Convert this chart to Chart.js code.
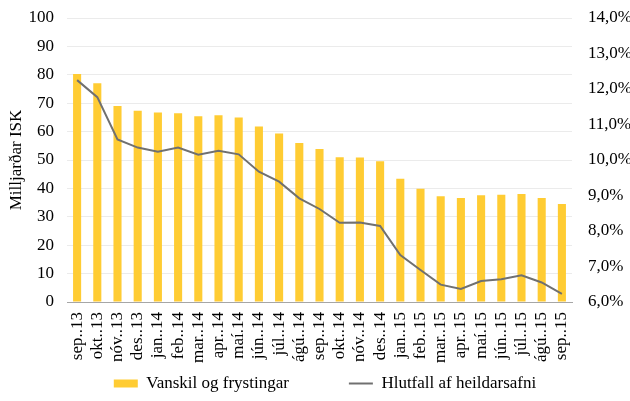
<!DOCTYPE html>
<html>
<head>
<meta charset="utf-8">
<script src="https://cdn.jsdelivr.net/npm/chart.js@4.4.1/dist/chart.umd.min.js"></script>
<style>
  body { margin: 0; background: #fff; }
  #wrap { width: 630px; height: 401px; position: relative; }
</style>
</head>
<body>
<div id="wrap"><canvas id="vanskilChart"></canvas></div>
<script>
const months = [
  "sep..13", "okt..13", "nóv..13", "des..13", "jan..14", "feb..14", "mar..14",
  "apr..14", "maí.14", "jún..14", "júl..14", "ágú..14", "sep..14", "okt..14",
  "nóv..14", "des..14", "jan..15", "feb..15", "mar..15", "apr..15", "maí.15",
  "jún..15", "júl..15", "ágú..15", "sep..15"
];

// milljarðar ISK
const vanskil = [
  80.3, 77.0, 69.0, 67.3, 66.7, 66.5, 65.4, 65.8, 65.0, 61.8, 59.3, 56.0, 53.9,
  51.0, 50.9, 49.6, 43.4, 39.9, 37.2, 36.6, 37.6, 37.8, 38.0, 36.6, 34.5
];

// % af heildarsafni
const hlutfall = [
  12.25, 11.77, 10.58, 10.35, 10.23, 10.35, 10.15, 10.26, 10.16, 9.67, 9.39, 8.92, 8.62,
  8.23, 8.24, 8.14, 7.32, 6.90, 6.49, 6.37, 6.59, 6.64, 6.75, 6.55, 6.23
];

const leftTicks = { min: 0, max: 100, step: 10 };
const rightTicks = { min: 6, max: 14, step: 1 };

const serif = "'Liberation Serif', 'Times New Roman', serif";
const txtFont = { family: serif, size: 17 };

// fixed axis sizes so the plot area sits where it should
const fixY = (w) => (scale) => {
  scale.width = w;
  scale.paddingTop = 18;
  scale.paddingBottom = 0;
};

// legend: wide gap between the two items but a short legend box
const legendGap = 60;
const legendHeight = 36;
const legendShift = 10;
const legendSpacing = {
  id: "legendSpacing",
  beforeLayout(chart) {
    const lg = chart.legend;
    if (lg && !lg._shortFit) {
      const origFit = lg.fit.bind(lg);
      lg.fit = function () {
        origFit();
        this.height = legendHeight;
      };
      lg._shortFit = true;
    }
  },
  afterLayout(chart) {
    const lg = chart.legend;
    if (!lg) return;
    lg.top = lg.top + 10 - legendGap;
    lg.left += legendShift;
    lg.right += legendShift;
  }
};

const ctx = document.getElementById("vanskilChart");

new Chart(ctx, {
  type: "bar",
  data: {
    labels: months,
    datasets: [
      {
        type: "line",
        label: "Hlutfall af heildarsafni",
        data: hlutfall,
        yAxisID: "yRight",
        borderColor: "#707070",
        backgroundColor: "#707070",
        borderWidth: 2,
        pointRadius: 0,
        tension: 0,
        order: 0
      },
      {
        type: "bar",
        label: "Vanskil og frystingar",
        data: vanskil,
        yAxisID: "yLeft",
        backgroundColor: "#FFCC33",
        borderWidth: 0,
        categoryPercentage: 1.0,
        barPercentage: 0.4,
        order: 1
      }
    ]
  },
  plugins: [legendSpacing],
  options: {
    responsive: true,
    maintainAspectRatio: false,
    animation: false,
    layout: { padding: 0 },
    plugins: {
      tooltip: { enabled: false },
      legend: {
        position: "bottom",
        reverse: true,
        labels: {
          usePointStyle: true,
          pointStyleWidth: 24,
          boxHeight: 8,
          padding: legendGap,
          color: "#000",
          font: txtFont,
          generateLabels: (chart) => {
            const items = Chart.defaults.plugins.legend.labels.generateLabels(chart);
            items.forEach((item) => {
              const ds = chart.data.datasets[item.datasetIndex];
              item.pointStyle = ds.type === "line" ? "line" : "rect";
              item.lineWidth = ds.type === "line" ? 2 : 0;
              item.fontColor = "#000";
            });
            return items;
          }
        }
      }
    },
    scales: {
      x: {
        grid: { display: false, drawTicks: false },
        border: { display: true, color: "#a6a6a6", width: 1 },
        afterFit: (scale) => { scale.height = 63; },
        ticks: {
          minRotation: 90,
          maxRotation: 90,
          autoSkip: false,
          padding: 10,
          color: "#000",
          font: txtFont
        }
      },
      yLeft: {
        position: "left",
        min: leftTicks.min,
        max: leftTicks.max,
        afterFit: fixY(67),
        ticks: { stepSize: leftTicks.step, padding: 13, color: "#000", font: txtFont },
        grid: { color: "#ebebeb", drawTicks: false },
        border: { display: false },
        title: {
          display: true,
          text: "Milljarðar ISK",
          color: "#000",
          font: txtFont,
          padding: { top: 6, bottom: 0 }
        }
      },
      yRight: {
        position: "right",
        min: rightTicks.min,
        max: rightTicks.max,
        afterFit: fixY(58),
        ticks: {
          stepSize: rightTicks.step,
          padding: 16,
          color: "#000",
          font: txtFont,
          callback: (v) => v.toFixed(1).replace(".", ",") + "%"
        },
        grid: { display: false, drawTicks: false },
        border: { display: false }
      }
    }
  }
});
</script>
</body>
</html>
